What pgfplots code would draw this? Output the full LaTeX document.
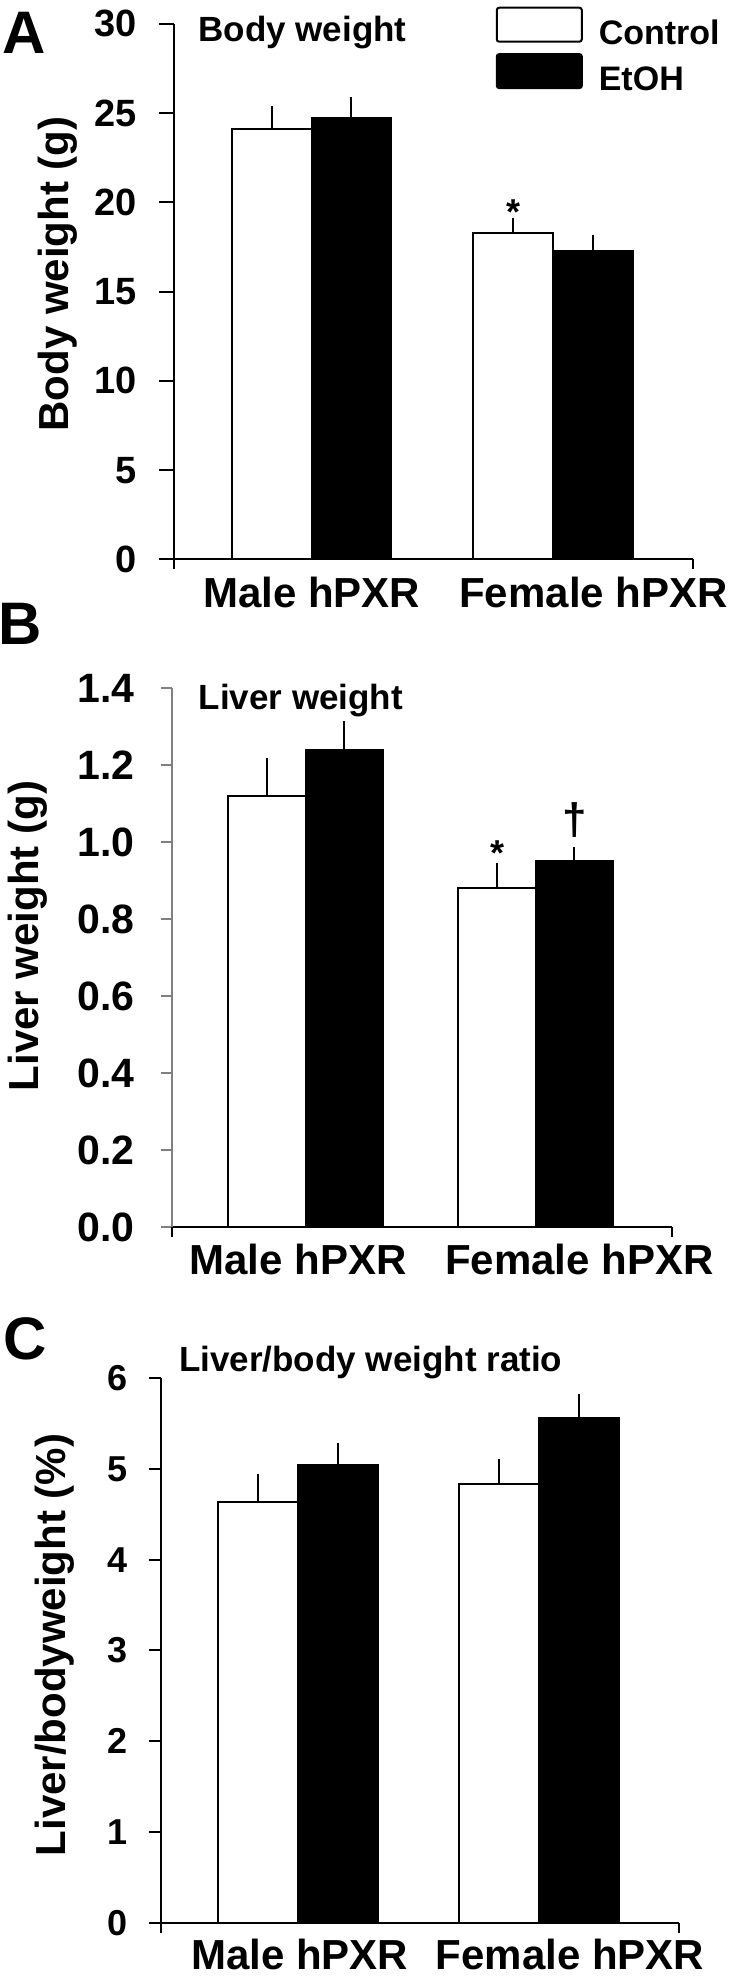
\documentclass[border=0pt]{standalone}
\usepackage{fontspec}
\setmainfont{Liberation Sans}
\usepackage{pgfplots}
\pgfplotsset{compat=1.18}
\newcommand{\fs}[1]{\bfseries\fontsize{#1}{#1}\selectfont}
\pgfplotsset{
  panel/.style={
    scale only axis, clip=false,
    axis x line*=bottom, axis y line*=left,
    axis line style={line width=1pt, black},
    ymin=0, ybar=0pt,
    xtick style={draw=none},
    ytick style={line width=1pt, black},
    tick align=outside,
    yticklabel style={anchor=east, inner sep=0pt},
    xticklabel style={anchor=north, inner sep=0pt, font=\fs{21}},
    ylabel style={anchor=center, inner sep=0pt, font=\fs{21}},
    xticklabels={Male hPXR, Female hPXR},
  },
  ctrl/.style={fill=white, draw=black, line width=1pt,
    error bars/.cd, y dir=plus, y explicit,
    error bar style={line width=1pt, black},
    error mark options={line width=1pt, mark size=3.5pt, black},
    /pgfplots/.cd},
  etoh/.style={fill=black, draw=black, line width=1pt,
    error bars/.cd, y dir=plus, y explicit,
    error bar style={line width=1pt, black},
    error mark options={line width=1pt, mark size=3.5pt, black},
    /pgfplots/.cd},
}
\begin{document}
\begin{tikzpicture}
\useasboundingbox (0,0) rectangle (365pt,990pt);
% Panel letters
\node[anchor=base west, inner sep=0pt, font=\fs{30}] at (1.1pt,963.3pt) {A};
\node[anchor=base west, inner sep=0pt, font=\fs{30}] at (-1pt,667.5pt) {B};
\node[anchor=base west, inner sep=0pt, font=\fs{30}] at (1.5pt,310.3pt) {C};

% ---------------- Panel A ----------------
\begin{axis}[panel,
  at={(86.75pt,710.25pt)}, anchor=south west,
  width=259.5pt, height=267.9pt,
  xmin=-0.572, xmax=1.578, ymax=30,
  bar width=0.33,
  xtick={0,1.168},
  ytick={0,5,10,15,20,25,30},
  yticklabels={0,5,10,15,20,25,30},
  major tick length=7pt,
  xticklabel style={yshift=-1.5pt},
  yticklabel style={font=\fs{19}, xshift=-11.25pt},
  ylabel={Body weight (g)},
  ylabel style={at={(axis description cs:-0.2235,0.533)}},
  legend image code/.code={\draw[#1, line width=1pt, rounded corners=1.2pt] (0pt,-4.2pt) rectangle (42.5pt,12.8pt);},
  legend style={at={(0.621,1.0317)}, anchor=north west, draw=none, fill=none,
    inner sep=0pt, outer sep=0pt, row sep=3pt, column sep=8pt,
    font=\fs{17}, nodes={inner sep=0pt}},
  legend cell align=left,
]
\addplot[bar shift=-0.165, ctrl] coordinates {(0,24.1) +- (0,0.9) (1,18.3) +- (0,0.4)};
\addlegendentry{Control}
\addplot[bar shift=0.165, etoh] coordinates {(0,24.7) +- (0,0.8) (1,17.3) +- (0,0.5)};
\addlegendentry{EtOH}
\draw[line width=1pt] (rel axis cs:0,0) -- ++(0pt,-5pt);
\draw[line width=1pt] (rel axis cs:1,0) -- ++(0pt,-5pt);
\node[anchor=base west, inner sep=0pt, font=\fs{17.5}] at (rel axis cs:0.0472,0.967) {Body weight};
\node[anchor=base, inner sep=0pt, font=\fs{18}] at (axis cs:0.835,18.75) {*};
\end{axis}

% ---------------- Panel B ----------------
\begin{axis}[panel,
  at={(85.8pt,376.5pt)}, anchor=south west,
  width=250pt, height=269.5pt,
  xmin=-0.583, xmax=1.591, ymax=1.4,
  bar width=0.336,
  xtick={-0.033,1.19},
  ytick={0,0.2,0.4,0.6,0.8,1.0,1.2,1.4},
  yticklabels={0.0,0.2,0.4,0.6,0.8,1.0,1.2,1.4},
  major tick length=5.5pt,
  xticklabel style={yshift=-3pt},
  y axis line style={gray},
  ytick style={gray, line width=0.8pt},
  yticklabel style={font=\fs{20.5}, xshift=-12.8pt},
  ylabel={Liver weight (g)},
  ylabel style={at={(axis description cs:-0.288,0.54)}},
]
\addplot[bar shift=-0.168, ctrl] coordinates {(0,1.12) +- (0,0.08) (1,0.88) +- (0,0.046)};
\addplot[bar shift=0.168, etoh] coordinates {(0,1.24) +- (0,0.055) (1,0.95) +- (0,0.02)};
\draw[line width=1pt] (rel axis cs:0,0) -- ++(0pt,-5pt);
\draw[line width=1pt] (rel axis cs:1,0) -- ++(0pt,-5pt);
\node[anchor=base west, inner sep=0pt, font=\fs{17.5}] at (rel axis cs:0.0534,0.9605) {Liver weight};
\node[anchor=base, inner sep=0pt, font=\fs{18}] at (axis cs:0.832,0.940) {*};
\node[anchor=center, inner sep=0pt, font=\fs{22}] at (axis cs:1.17,1.057) {†};
\end{axis}

% ---------------- Panel C ----------------
\begin{axis}[panel,
  at={(80.5pt,28.5pt)}, anchor=south west,
  width=258.85pt, height=272.5pt,
  xmin=-0.572, xmax=1.583, ymax=6,
  bar width=0.333,
  xtick={0.005,1.131},
  ytick={0,1,2,3,4,5,6},
  yticklabels={0,1,2,3,4,5,6},
  major tick length=6pt,
  xticklabel style={yshift=-2pt},
  yticklabel style={font=\fs{18}, xshift=-10.4pt},
  ylabel={Liver/bodyweight (\%)},
  ylabel style={at={(axis description cs:-0.2057,0.51)}},
]
\addplot[bar shift=-0.1665, ctrl] coordinates {(0,4.64) +- (0,0.23) (1,4.83) +- (0,0.20)};
\addplot[bar shift=0.1665, etoh] coordinates {(0,5.04) +- (0,0.17) (1,5.56) +- (0,0.19)};
\draw[line width=1pt] (rel axis cs:0,0) -- ++(0pt,-5pt);
\draw[line width=1pt] (rel axis cs:1,0) -- ++(0pt,-5pt);
\node[anchor=base west, inner sep=0pt, font=\fs{17.5}] at (rel axis cs:0.0343,1.0116) {Liver/body weight ratio};
\end{axis}
\end{tikzpicture}
\end{document}
